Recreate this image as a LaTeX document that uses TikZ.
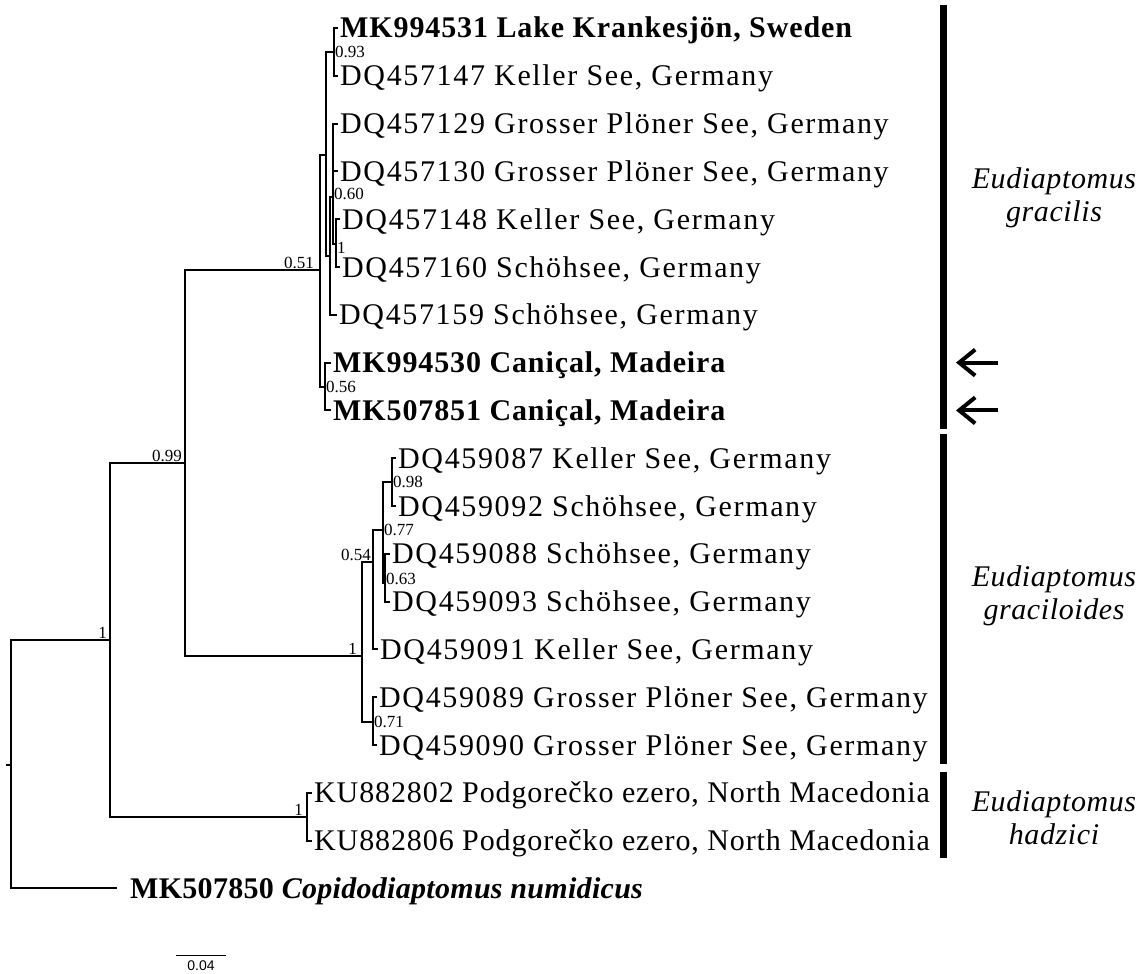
\documentclass[tikz,border=0pt]{standalone}
\usepackage{fontspec}
\setmainfont{Liberation Serif}
\newfontfamily\leaffont[LetterSpace=5.5]{Liberation Serif}
\newfontfamily\narrowleaffont[LetterSpace=3]{Liberation Serif}
\newfontfamily\boldleaffont[LetterSpace=3]{Liberation Serif}
\newfontfamily\ogfont[LetterSpace=1]{Liberation Serif}
\newfontfamily\cladefont[LetterSpace=2]{Liberation Serif}
\newfontfamily\barfont{Liberation Sans}
\usetikzlibrary{arrows.meta}

\tikzset{
  branch/.style={line width=2pt},
  leaf/.style={anchor=west, inner xsep=2pt, inner ysep=0pt, text height=20pt, text depth=0pt,
    font=\leaffont\fontsize{30}{30}\selectfont},
  narrowleaf/.style={leaf, font=\narrowleaffont\fontsize{30}{30}\selectfont},
  boldleaf/.style={leaf, font=\boldleaffont\fontsize{30}{30}\selectfont\bfseries},
  pp/.style={inner sep=1pt, font=\fontsize{17}{17}\selectfont},
  cladebar/.style={line width=7pt},
  cladename/.style={align=center, font=\cladefont\fontsize{30}{33}\selectfont\itshape},
  marker/.style={line width=4pt, -{Straight Barb[length=16pt,width=26pt]}}
}

\begin{document}
\begin{tikzpicture}[x=1pt,y=-1pt]
            \useasboundingbox (0,0) rectangle (1144,974);

            \coordinate (root) at (11,765);
            \coordinate (rootstub) at (6,765);
            \coordinate (n1) at (110,640);
            \coordinate (n099) at (185,463);
            \coordinate (n051) at (320,270);
            \coordinate (nA) at (326,155);
            \coordinate (n093) at (334,52);
            \coordinate (nB) at (330,256);
            \coordinate (n060) at (333,197);
            \coordinate (n1b) at (336,244);
            \coordinate (n056) at (325,387);
            \coordinate (n1c) at (362,656);
            \coordinate (n054) at (373,562);
            \coordinate (n077) at (383,530);
            \coordinate (n098) at (392,482);
            \coordinate (n063) at (385,583);
            \coordinate (n071) at (373,722);
            \coordinate (n1d) at (307,817);

            \node[boldleaf] (l0) at (338,28) {MK994531 Lake Krankesjön, Sweden};
            \node[leaf] (l1) at (338,75.8) {DQ457147 Keller See, Germany};
            \node[leaf] (l2) at (338,123.6) {DQ457129 Grosser Plöner See, Germany};
            \node[leaf] (l3) at (338,171.4) {DQ457130 Grosser Plöner See, Germany};
            \node[leaf] (l4) at (340,219.2) {DQ457148 Keller See, Germany};
            \node[leaf] (l5) at (340,267) {DQ457160 Schöhsee, Germany};
            \node[leaf] (l6) at (337,314.8) {DQ457159 Schöhsee, Germany};
            \node[boldleaf] (l7) at (331,362.6) {MK994530 Caniçal, Madeira};
            \node[boldleaf] (l8) at (331,410.4) {MK507851 Caniçal, Madeira};
            \node[leaf] (l9) at (396,458.2) {DQ459087 Keller See, Germany};
            \node[leaf] (l10) at (396,506) {DQ459092 Schöhsee, Germany};
            \node[leaf] (l11) at (390,553.8) {DQ459088 Schöhsee, Germany};
            \node[leaf] (l12) at (390,601.6) {DQ459093 Schöhsee, Germany};
            \node[leaf] (l13) at (378,649.4) {DQ459091 Keller See, Germany};
            \node[leaf] (l14) at (377,697.2) {DQ459089 Grosser Plöner See, Germany};
            \node[leaf] (l15) at (377,745) {DQ459090 Grosser Plöner See, Germany};
            \node[narrowleaf] (l16) at (312,792.8) {KU882802 Podgorečko ezero, North Macedonia};
            \node[narrowleaf] (l17) at (312,840.6) {KU882806 Podgorečko ezero, North Macedonia};
            \node[leaf, font=\ogfont\fontsize{30}{30}\selectfont\bfseries, inner xsep=13pt] (og) at (117,888.4) {MK507850 \textit{Copidodiaptomus numidicus}};

            \draw[branch] (rootstub) -- (root);
            \draw[branch] (root) |- (n1);
            \draw[branch] (root) |- (og.west);
            \draw[branch] (n1) |- (n099);
            \draw[branch] (n1) |- (n1d);
            \draw[branch] (n099) |- (n051);
            \draw[branch] (n099) |- (n1c);
            \draw[branch] (n051) |- (nA);
            \draw[branch] (n051) |- (n056);
            \draw[branch] (nA) |- (n093);
            \draw[branch] (nA) |- (nB);
            \draw[branch] (n093) |- (l0.west);
            \draw[branch] (n093) |- (l1.west);
            \draw[branch] (nB) |- (n060);
            \draw[branch] (nB) |- (l6.west);
            \draw[branch] (n060) |- (l2.west);
            \draw[branch] (n060) |- (l3.west);
            \draw[branch] (n060) |- (n1b);
            \draw[branch] (n1b) |- (l4.west);
            \draw[branch] (n1b) |- (l5.west);
            \draw[branch] (n056) |- (l7.west);
            \draw[branch] (n056) |- (l8.west);
            \draw[branch] (n1c) |- (n054);
            \draw[branch] (n1c) |- (n071);
            \draw[branch] (n054) |- (n077);
            \draw[branch] (n054) |- (l13.west);
            \draw[branch] (n077) |- (n098);
            \draw[branch] (n077) |- (n063);
            \draw[branch] (n098) |- (l9.west);
            \draw[branch] (n098) |- (l10.west);
            \draw[branch] (n063) |- (l11.west);
            \draw[branch] (n063) |- (l12.west);
            \draw[branch] (n071) |- (l14.west);
            \draw[branch] (n071) |- (l15.west);
            \draw[branch] (n1d) |- (l16.west);
            \draw[branch] (n1d) |- (l17.west);

            \node[pp, anchor=west] (p093) at (n093) {0.93};
            \node[pp, anchor=west, yshift=3pt] (p060) at (n060) {0.60};
            \node[pp, anchor=north west, inner sep=0pt, xshift=1pt, yshift=2pt] (p1b) at (n1b) {1};
            \node[pp, anchor=west] (p056) at (n056) {0.56};
            \node[pp, anchor=south east, xshift=-5pt] (p051) at (n051) {0.51};
            \node[pp, anchor=south east, xshift=-2pt] (p099) at (n099) {0.99};
            \node[pp, anchor=south east, xshift=-2pt] (p1) at (n1) {1};
            \node[pp, anchor=south east, xshift=-1pt] (p054) at (n054) {0.54};
            \node[pp, anchor=south east, xshift=-4pt] (p1c) at (n1c) {1};
            \node[pp, anchor=south east, xshift=-3pt] (p1d) at (n1d) {1};
            \node[pp, anchor=west] (p098) at (n098) {0.98};
            \node[pp, anchor=west] (p077) at (n077) {0.77};
            \node[pp, anchor=west, yshift=4pt] (p063) at (n063) {0.63};
            \node[pp, anchor=west] (p071) at (n071) {0.71};

            \coordinate (b1t) at (943.5,5);
            \coordinate (b1b) at (943.5,429);
            \coordinate (b2t) at (943.5,434);
            \coordinate (b2b) at (943.5,764);
            \coordinate (b3t) at (943.5,772);
            \coordinate (b3b) at (943.5,858);
            \draw[cladebar] (b1t) -- (b1b);
            \draw[cladebar] (b2t) -- (b2b);
            \draw[cladebar] (b3t) -- (b3b);

            \node[cladename] (cgr) at (1054,198) {Eudiaptomus\\gracilis};
            \node[cladename] (cgd) at (1054,596) {Eudiaptomus\\graciloides};
            \node[cladename] (chz) at (1054,818) {Eudiaptomus\\hadzici};

            \coordinate (a1) at (998,362.6);
            \coordinate (a1h) at (956,362.6);
            \coordinate (a2) at (998,410.4);
            \coordinate (a2h) at (956,410.4);
            \draw[marker] (a1) -- (a1h);
            \draw[marker] (a2) -- (a2h);

            \coordinate (s0) at (176,955);
            \coordinate (s1) at (226,955);
            \draw[line width=1pt] (s0) -- (s1) node[midway, below=2pt, font=\barfont\fontsize{14}{14}\selectfont] (sbar) {0.04};
        \end{tikzpicture}
\end{document}
